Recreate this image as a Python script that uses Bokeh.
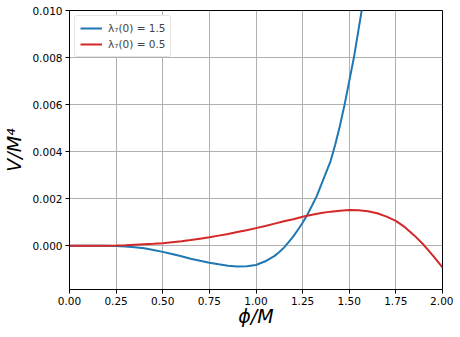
from bokeh.plotting import figure
from bokeh.models import Range1d, FixedTicker, NumeralTickFormatter, Legend, LegendItem
from bokeh.embed import file_html
from bokeh.resources import INLINE

# lambda_7(0) = 1.5  (runs off the top after ~1.57)
phi_blue = [0.00, 0.05, 0.10, 0.15, 0.20, 0.25, 0.30, 0.35, 0.40, 0.45,
            0.50, 0.55, 0.60, 0.65, 0.70, 0.75, 0.80, 0.85, 0.90, 0.95,
            1.00, 1.05, 1.10, 1.125, 1.15, 1.175, 1.20, 1.225, 1.25, 1.275,
            1.30, 1.325, 1.35, 1.375, 1.40, 1.425, 1.45, 1.475, 1.50, 1.525,
            1.55, 1.575, 1.60, 1.65]
v_blue = [0.0, 0.0, 0.0, -0.000002, -0.000005, -0.00001, -0.00003, -0.00006, -0.00011, -0.00018,
          -0.00026, -0.00035, -0.00045, -0.00055, -0.00064, -0.00072, -0.00079, -0.00085, -0.00088, -0.00087,
          -0.00082, -0.00066, -0.00043, -0.00027, -0.00008, 0.00015, 0.00040, 0.00068, 0.00098, 0.00132,
          0.0017, 0.0021, 0.0026, 0.0031, 0.0036, 0.0043, 0.0051, 0.0060, 0.0070, 0.0080,
          0.0092, 0.0104, 0.0118, 0.0148]

# lambda_7(0) = 0.5
phi_red = [0.00, 0.05, 0.10, 0.15, 0.20, 0.25, 0.30, 0.35, 0.40, 0.45,
           0.50, 0.55, 0.60, 0.65, 0.70, 0.75, 0.80, 0.85, 0.90, 0.95,
           1.00, 1.05, 1.10, 1.15, 1.20, 1.25, 1.30, 1.35, 1.40, 1.45,
           1.50, 1.55, 1.60, 1.65, 1.70, 1.75, 1.80, 1.85, 1.90, 1.95, 2.00]
v_red = [0.0, 0.0, 0.0, 0.0, 0.000003, 0.00001, 0.00002, 0.00004, 0.00006, 0.00008,
         0.00011, 0.00015, 0.00019, 0.00024, 0.00030, 0.00036, 0.00043, 0.00050, 0.00058, 0.00066,
         0.00075, 0.00084, 0.00094, 0.00104, 0.00113, 0.00123, 0.00132, 0.00139, 0.00145, 0.00149,
         0.00152, 0.00151, 0.00147, 0.00138, 0.00124, 0.00106, 0.00078, 0.00043, 0.00003, -0.00043, -0.00092]

x_ticks = [0.0, 0.25, 0.5, 0.75, 1.0, 1.25, 1.5, 1.75, 2.0]
y_ticks = [0.0, 0.002, 0.004, 0.006, 0.008, 0.010]

labels = ["λ₇(0) = 1.5", "λ₇(0) = 0.5"]
colors = ["#1f77b4", "#d62728"]

p = figure(frame_width=373, frame_height=279, output_backend="svg", toolbar_location=None,
           x_range=Range1d(0.0, 2.0), y_range=Range1d(-0.00186, 0.010),
           min_border_left=60, min_border_right=11, min_border_top=10, min_border_bottom=30)

r1 = p.line(phi_blue, v_blue, line_color=colors[0], line_width=2)
r2 = p.line(phi_red, v_red, line_color=colors[1], line_width=2)

p.xaxis.ticker = FixedTicker(ticks=x_ticks)
p.yaxis.ticker = FixedTicker(ticks=y_ticks)
p.xaxis.formatter = NumeralTickFormatter(format="0.00")
p.yaxis.formatter = NumeralTickFormatter(format="0.000")

for ax in (p.xaxis[0], p.yaxis[0]):
    ax.major_label_text_font = "DejaVu Sans"
    ax.major_label_text_font_size = "10.5px"
    ax.major_label_text_color = "black"
    ax.axis_line_color = "black"
    ax.major_tick_line_color = "black"
    ax.major_tick_out = 4
    ax.major_tick_in = 0
    ax.minor_tick_line_color = None
    ax.axis_label_text_font = "DejaVu Sans"
    ax.axis_label_text_font_style = "italic"
    ax.axis_label_text_font_size = "19px"
    ax.axis_label_text_color = "black"

p.xaxis.axis_label = "ϕ/M"
p.yaxis.axis_label = "V/M⁴"
p.xaxis.axis_label_standoff = -3
p.yaxis.axis_label_standoff = 4
p.xaxis.major_label_standoff = 3
p.yaxis.major_label_standoff = 3

p.grid.grid_line_color = "#b0b0b0"
p.grid.grid_line_width = 1
p.grid.grid_line_alpha = 1.0
p.outline_line_color = "black"
p.outline_line_width = 1
p.background_fill_color = "white"
p.border_fill_color = "white"

legend = Legend(items=[LegendItem(label=labels[0], renderers=[r1]),
                       LegendItem(label=labels[1], renderers=[r2])],
                location="top_left")
legend.margin = 5
legend.padding = 5
legend.spacing = 2
legend.label_text_font = "DejaVu Sans"
legend.label_text_font_size = "10.5px"
legend.label_height = 14
legend.glyph_height = 14
legend.glyph_width = 22
legend.label_standoff = 6
legend.border_line_color = "#cccccc"
legend.border_line_width = 1
legend.background_fill_alpha = 1.0
legend.border_radius = 3
p.add_layout(legend)

open("out.html", "w").write(file_html(p, INLINE))
